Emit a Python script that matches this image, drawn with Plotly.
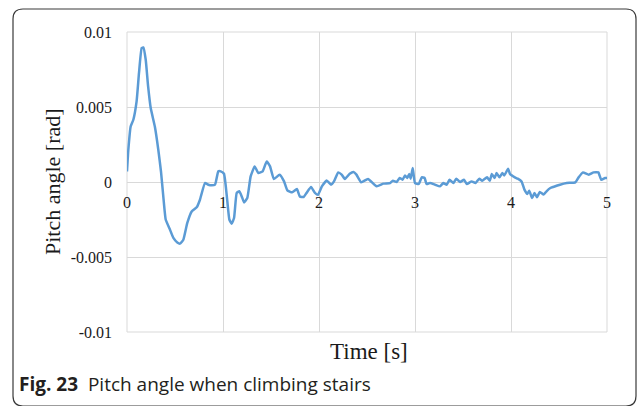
import plotly.graph_objects as go

# ---- data (time in s, pitch angle in rad) ----
time_s = [0.0, 0.014, 0.038, 0.066, 0.10, 0.125, 0.153, 0.17, 0.195, 0.22, 0.247, 0.29, 0.326,
          0.354, 0.378, 0.403, 0.448, 0.483, 0.524, 0.552, 0.587, 0.628, 0.674, 0.726, 0.76,
          0.812, 0.847, 0.882, 0.917, 0.951, 0.976, 1.01, 1.04, 1.066, 1.09, 1.115, 1.143,
          1.17, 1.195, 1.22, 1.253, 1.288, 1.33, 1.368, 1.413, 1.455, 1.49, 1.53, 1.59, 1.636,
          1.67, 1.72, 1.77, 1.8, 1.84, 1.87, 1.917, 1.958, 1.99, 2.03, 2.08, 2.125, 2.156,
          2.2, 2.236, 2.27, 2.32, 2.36, 2.39, 2.44, 2.51, 2.6, 2.67, 2.74, 2.77, 2.81, 2.84,
          2.87, 2.896, 2.92, 2.94, 2.955, 2.976, 3.0, 3.04, 3.07, 3.1, 3.12, 3.156, 3.21,
          3.26, 3.295, 3.33, 3.36, 3.4, 3.43, 3.47, 3.51, 3.54, 3.59, 3.63, 3.67, 3.7, 3.75,
          3.78, 3.8, 3.83, 3.85, 3.88, 3.91, 3.93, 3.97, 3.99, 4.04, 4.07, 4.11, 4.14, 4.17,
          4.19, 4.22, 4.245, 4.27, 4.3, 4.34, 4.37, 4.41, 4.44, 4.51, 4.58, 4.67, 4.7, 4.75,
          4.81, 4.86, 4.91, 4.94, 4.98, 5.0]
pitch_rad = [0.0007, 0.00215, 0.0037, 0.00415, 0.00537, 0.00727, 0.00893, 0.00897, 0.00815,
             0.00637, 0.00493, 0.0037, 0.00215, 0.0007, -0.00096, -0.0025, -0.00318, -0.00373,
             -0.00403, -0.00411, -0.00385, -0.00273, -0.00196, -0.00169, -0.00118, -0.00007,
             -0.00018, -0.00022, -0.00018, 0.00071, 0.00071, 0.00055, -0.00096, -0.0025,
             -0.00278, -0.0024, -0.00073, -0.00062, -0.00096, -0.00136, -0.00107, 0.00037,
             0.00104, 0.0006, 0.00071, 0.00137, 0.00104, 0.0002, 0.00049, 0.00004, -0.00056,
             -0.00069, -0.00047, -0.00096, -0.001, -0.00073, -0.00033, -0.00073, -0.00085,
             -0.00029, 0.0001, -0.00018, 0.00004, 0.00064, 0.00049, 0.0002, 0.00055, 0.00067,
             0.00049, -0.00002, 0.0002, -0.00029, -0.00011, -0.00007, 0.00009, 0.0, 0.00027,
             0.00015, 0.00044, 0.00027, 0.00053, 0.00022, 0.00093, -0.00007, -0.00013, 0.00031,
             0.00027, -0.00013, -0.00007, -0.00018, -0.00029, -0.00007, -0.00018, 0.00015,
             -0.00007, 0.00022, 0.0, 0.00015, -0.00013, 0.00004, -0.00007, 0.00022, 0.00009,
             0.00031, 0.00009, 0.00053, 0.00027, 0.0006, 0.00031, 0.0006, 0.00044, 0.00089,
             0.00053, 0.00031, 0.00022, 0.00004, -0.00051, -0.0008, -0.00058, -0.00107,
             -0.00073, -0.00102, -0.00067, -0.00084, -0.00062, -0.0004, -0.00033, -0.00018,
             -0.00007, -0.00002, 0.00027, 0.00064, 0.00049, 0.00064, 0.00064, 0.00015, 0.00027,
             0.00027]

y_tick_vals = [-0.01, -0.005, 0, 0.005, 0.01]
y_tick_text = ["-0.01", "-0.005", "0", "0.005", "0.01"]
x_tick_vals = [0, 1, 2, 3, 4, 5]
x_tick_text = ["0", "1", "2", "3", "4", "5"]

x_title = "Time [s]"
y_title = "Pitch angle [rad]"
caption_bold = "Fig. 23"
caption_text = "Pitch angle when climbing stairs"

W, H = 637, 406
L, R, T, B = 127, 30, 32, 74
PW, PH = W - L - R, H - T - B

def px(x):
    return (x - L) / PW

def py(y):
    return (H - B - y) / PH

grid = "#D9D9D9"
serif = "Liberation Serif"
txt = "#1a1a1a"

fig = go.Figure()
fig.add_trace(go.Scatter(x=time_s, y=pitch_rad, mode="lines",
                         line=dict(color="#5B9BD5", width=2.5, shape="spline", smoothing=0.4),
                         hoverinfo="skip", showlegend=False))

fig.update_layout(
    width=W, height=H,
    margin=dict(l=L, r=R, t=T, b=B),
    paper_bgcolor="white", plot_bgcolor="white",
    xaxis=dict(range=[0, 5], tickvals=x_tick_vals, ticktext=x_tick_text,
               showgrid=True, gridcolor=grid, gridwidth=1, zeroline=False,
               showline=False, anchor="free", position=0.5, ticks="",
               tickfont=dict(family=serif, size=16, color=txt),
               ticklabelstandoff=9),
    yaxis=dict(range=[-0.01, 0.01], tickvals=y_tick_vals, ticktext=y_tick_text,
               showgrid=True, gridcolor=grid, gridwidth=1, zeroline=True,
               zerolinecolor=grid, zerolinewidth=1, showline=False, ticks="",
               tickfont=dict(family=serif, size=16, color=txt),
               ticklabelstandoff=14),
)

# plot-area frame
fig.add_shape(type="rect", xref="paper", yref="paper", x0=0, x1=1, y0=0, y1=1,
              line=dict(color=grid, width=1), layer="below")

# rounded outer border
r = 10
x0b, x1b, y0b, y1b = 13, 636, 9, 406
path = (f"M {px(x0b + r)},{py(y0b)} L {px(x1b - r)},{py(y0b)} "
        f"Q {px(x1b)},{py(y0b)} {px(x1b)},{py(y0b + r)} "
        f"L {px(x1b)},{py(y1b - r)} Q {px(x1b)},{py(y1b)} {px(x1b - r)},{py(y1b)} "
        f"L {px(x0b + r)},{py(y1b)} Q {px(x0b)},{py(y1b)} {px(x0b)},{py(y1b - r)} "
        f"L {px(x0b)},{py(y0b + r)} Q {px(x0b)},{py(y0b)} {px(x0b + r)},{py(y0b)} Z")
fig.add_shape(type="path", path=path, xref="paper", yref="paper",
              line=dict(color="#3a3a3a", width=1.2), layer="above")

fig.add_annotation(text=x_title, xref="paper", yref="paper", x=px(369), y=py(351),
                   showarrow=False, xanchor="center", yanchor="middle",
                   font=dict(family=serif, size=23, color=txt))
fig.add_annotation(text=y_title, xref="paper", yref="paper", x=px(52), y=py(182),
                   showarrow=False, xanchor="center", yanchor="middle", textangle=-90,
                   font=dict(family=serif, size=22, color=txt))
fig.add_annotation(text=f"<b>{caption_bold}</b>  {caption_text}", xref="paper", yref="paper",
                   x=px(17), y=py(384), showarrow=False, xanchor="left", yanchor="middle",
                   font=dict(family="Open Sans", size=19, color="#231f20"))

fig.write_html("out.html")
